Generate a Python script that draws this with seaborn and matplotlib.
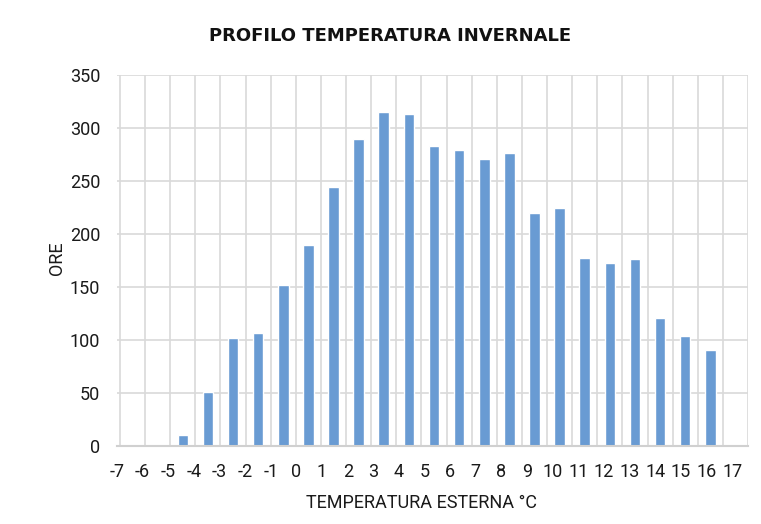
import matplotlib
matplotlib.use("Agg")
import matplotlib.pyplot as plt
import seaborn as sns
import pandas as pd
import numpy as np

temps = list(range(-7, 18))
hours = [0, 0, 10, 51, 102, 107, 152, 190, 244, 290, 315, 313, 283, 279, 271, 276,
         220, 225, 177, 173, 176, 121, 104, 91, 0]
tick_labels = [str(t) for t in temps]
yticks = [0, 50, 100, 150, 200, 250, 300, 350]

sns.set_theme(style="white")
plt.rcParams['font.family'] = ['Roboto', 'DejaVu Sans']

df = pd.DataFrame({"temp": tick_labels, "ore": hours})

fig = plt.figure(figsize=(7.61, 5.24), dpi=100)
ax = fig.add_axes([117/761, 78/524, 631/761, 371/524])
sns.barplot(data=df, x="temp", y="ore", color="#699bd3", width=0.42, saturation=1,
            ax=ax, order=tick_labels)

ax.set_xlim(-0.5, 24.5)
ax.set_ylim(0, 350)
ax.set_yticks(yticks)
ax.set_yticklabels([str(v) for v in yticks], fontsize=13, color="#1a1a1a")
pos = np.linspace(-0.62, 23.87, len(tick_labels))
ax.set_xticks(pos)
ax.set_xticklabels(tick_labels, fontsize=13, color="#1a1a1a")
ax.set_xticks(np.arange(-0.5, 25, 1), minor=True)
ax.tick_params(axis="both", which="both", length=0)
ax.tick_params(axis="x", pad=12)
ax.tick_params(axis="y", pad=12)
ax.grid(False)
ax.grid(True, axis="y", which="major", color="#d9d9d9", linewidth=1.2)
ax.grid(True, axis="x", which="minor", color="#d9d9d9", linewidth=1.2)
ax.set_axisbelow(True)
for s in ["top", "right", "left"]:
    ax.spines[s].set_visible(False)
ax.spines["bottom"].set_color("#d0d0d0")
ax.spines["bottom"].set_linewidth(1.5)

ax.set_xlabel("TEMPERATURA ESTERNA °C", fontsize=13, color="#1a1a1a")
ax.set_ylabel("ORE", fontsize=13, color="#1a1a1a")
ax.xaxis.set_label_coords((422 - 117) / 631, -(494 - 446) / 371)
ax.yaxis.set_label_coords(-(117 - 66) / 631, (446 - 258) / 371)
fig.text(390/761, 1 - 36/524, "PROFILO TEMPERATURA INVERNALE", ha="center", va="center",
         fontsize=13, fontweight="bold", family=["DejaVu Sans"], color="#111111")

fig.savefig("out.png", dpi=100)
